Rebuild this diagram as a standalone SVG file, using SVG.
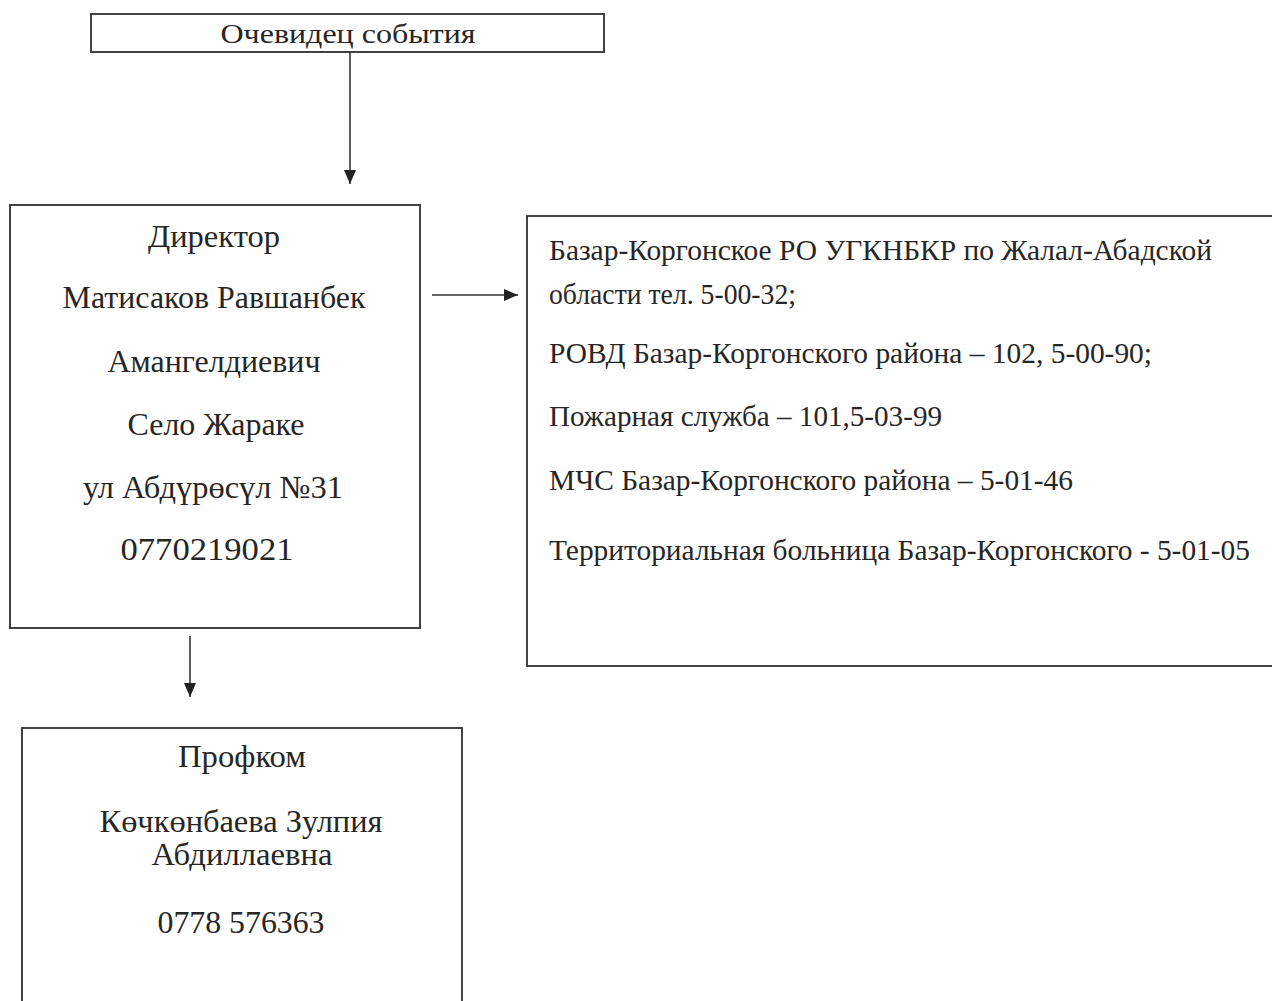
<svg xmlns="http://www.w3.org/2000/svg" width="1272" height="1001" viewBox="0 0 1272 1001">
<style>
.box{fill:#fff;stroke:#2e2e2e;stroke-width:1.8}
.t{font-family:"Liberation Serif","Times New Roman",serif;font-size:32px;fill:#262626}
.c{text-anchor:middle}
.s{font-size:28px}
.r{font-size:29px}
.ln{stroke:#333;stroke-width:1.6;fill:none}
</style>
<defs>
<marker id="ah" viewBox="0 0 14 12" refX="14" refY="6" markerWidth="14" markerHeight="12" markerUnits="userSpaceOnUse" orient="auto">
<path d="M0,0 L14,6 L0,12 Z" fill="#222"/>
</marker>
</defs>
<rect width="1272" height="1001" fill="#fff"/>
<g id="connectors">
<line class="ln" x1="350" y1="52" x2="350" y2="184" marker-end="url(#ah)"/>
<line class="ln" x1="432" y1="295" x2="518" y2="295" marker-end="url(#ah)"/>
<line class="ln" x1="190" y1="636" x2="190" y2="697" marker-end="url(#ah)"/>
</g>
<g id="witness">
<rect class="box" x="91" y="14" width="513" height="38"/>
<text class="t s c" x="348" y="43" textLength="255" lengthAdjust="spacingAndGlyphs">Очевидец события</text>
</g>
<g id="director">
<rect class="box" x="10" y="205" width="410" height="423"/>
<text class="t c" x="214" y="247" textLength="132" lengthAdjust="spacingAndGlyphs">Директор</text>
<text class="t c" x="214" y="308" textLength="303" lengthAdjust="spacingAndGlyphs">Матисаков Равшанбек</text>
<text class="t c" x="214" y="372" textLength="213" lengthAdjust="spacingAndGlyphs">Амангелдиевич</text>
<text class="t c" x="216" y="435" textLength="177" lengthAdjust="spacingAndGlyphs">Село Жараке</text>
<text class="t c" x="213" y="498" textLength="260" lengthAdjust="spacingAndGlyphs">ул Абдүрөсүл №31</text>
<text class="t c" x="207" y="560" textLength="173" lengthAdjust="spacingAndGlyphs">0770219021</text>
</g>
<g id="services">
<rect class="box" x="527" y="216" width="760" height="450"/>
<text class="t r" x="549" y="260" textLength="663" lengthAdjust="spacingAndGlyphs">Базар-Коргонское РО УГКНБКР по Жалал-Абадской</text>
<text class="t r" x="549" y="304" textLength="247" lengthAdjust="spacingAndGlyphs">области тел. 5-00-32;</text>
<text class="t r" x="549" y="363" textLength="603" lengthAdjust="spacingAndGlyphs">РОВД Базар-Коргонского района – 102, 5-00-90;</text>
<text class="t r" x="549" y="426" textLength="393" lengthAdjust="spacingAndGlyphs">Пожарная служба – 101,5-03-99</text>
<text class="t r" x="549" y="490" textLength="524" lengthAdjust="spacingAndGlyphs">МЧС Базар-Коргонского района – 5-01-46</text>
<text class="t r" x="549" y="560" textLength="701" lengthAdjust="spacingAndGlyphs">Территориальная больница Базар-Коргонского - 5-01-05</text>
</g>
<g id="profkom">
<rect class="box" x="22" y="728" width="440" height="290"/>
<text class="t c" x="242" y="767" textLength="128" lengthAdjust="spacingAndGlyphs">Профком</text>
<text class="t c" x="241" y="832" textLength="283" lengthAdjust="spacingAndGlyphs">Көчкөнбаева Зулпия</text>
<text class="t c" x="242" y="865" textLength="181" lengthAdjust="spacingAndGlyphs">Абдиллаевна</text>
<text class="t c" x="241" y="933" textLength="167" lengthAdjust="spacingAndGlyphs">0778 576363</text>
</g>
</svg>
